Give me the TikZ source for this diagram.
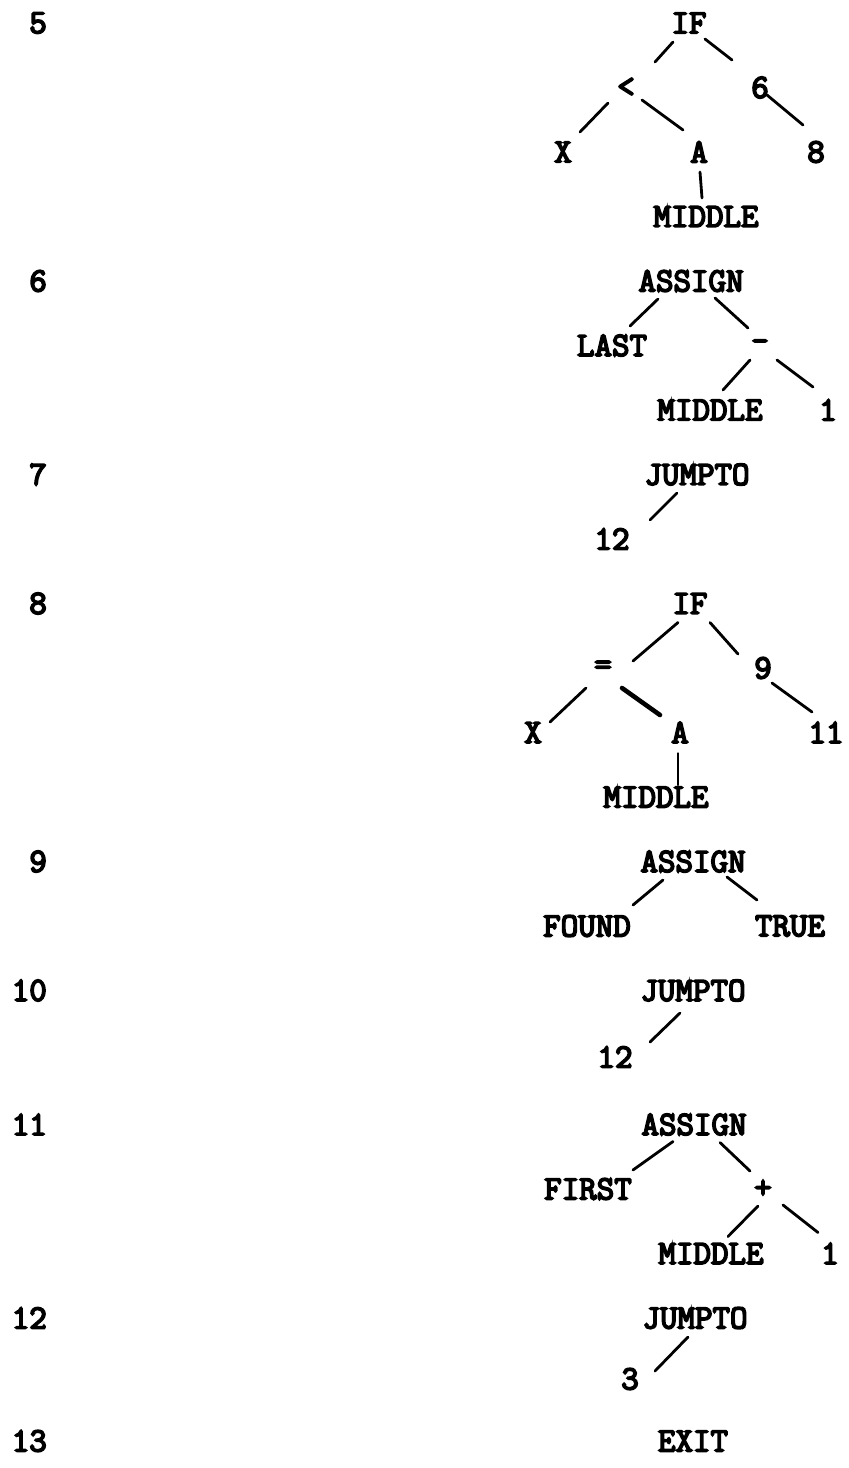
\documentclass[tikz,border=0pt]{standalone}
\usepackage{fontspec}
\newfontfamily\twfont{Latin Modern Mono}[FakeBold=5]
\newcommand\tconn[4]{\draw[edge] ([shift={#2}]#1.center) -- ([shift={#4}]#3.center);}
\begin{document}
\begin{tikzpicture}[x=1pt,y=-1pt,
  lbl/.style={inner sep=0pt,font={\twfont\fontsize{34}{40}\selectfont}},
  num/.style={lbl,anchor=east},
  edge/.style={line width=2.8pt,line cap=round,black},
  heavy/.style={line width=4.6pt,line cap=round,black}]
\useasboundingbox[fill=white] (0,0) rectangle (849,1468);
% statement numbers
\node[num] (n5)  at (47,23)     {5};
\node[num] (n6)  at (47,281)    {6};
\node[num] (n7)  at (47,474.5)  {7};
\node[num] (n8)  at (47,603.5)  {8};
\node[num] (n9)  at (47,861.5)  {9};
\node[num] (n10) at (47,990.5)  {10};
\node[num] (n11) at (47,1124.5) {11};
\node[num] (n12) at (47,1318)   {12};
\node[num] (n13) at (47,1441)   {13};
% tree 5
\node[lbl] (IF1)    at (689,23)    {IF};
\node[lbl] (LT1)    at (626,87.5)  {<};
\node[lbl] (SIX1)   at (760,87.5)  {6};
\node[lbl] (X1)     at (563,152)   {X};
\node[lbl] (A1)     at (699,152)   {A};
\node[lbl] (EIGHT1) at (816,152)   {8};
\node[lbl] (MID1)   at (706,216.5) {MIDDLE};
\tconn{IF1}{(-16,19)}{LT1}{(29,-25.5)}
\tconn{IF1}{(16,16)}{SIX1}{(-28,-27.5)}
\tconn{LT1}{(-18,15.5)}{X1}{(17,-20)}
\tconn{LT1}{(16,12.5)}{A1}{(-16,-22)}
\tconn{SIX1}{(7,7.5)}{EIGHT1}{(-13,-27)}
\tconn{A1}{(1,20)}{MID1}{(-4,-18.5)}
% tree 6
\node[lbl] (ASG2)   at (691,281)   {ASSIGN};
\node[lbl] (LAST2)  at (612,345.5) {LAST};
\node[lbl] (MIN2)   at (760,345.5) {-};
\node[lbl] (MID2)   at (710,410)   {MIDDLE};
\node[lbl] (ONE2)   at (828,410)   {1};
\tconn{ASG2}{(-33,18)}{LAST2}{(18,-19.5)}
\tconn{ASG2}{(24,17)}{MIN2}{(-12,-17.5)}
\tconn{MIN2}{(-10,14.5)}{MID2}{(13,-20)}
\tconn{MIN2}{(17,14.5)}{ONE2}{(-15,-23)}
% tree 7
\node[lbl] (JMP3)   at (697,474.5) {JUMPTO};
\node[lbl] (TW3)    at (612,539)   {12};
\tconn{JMP3}{(-20,18.5)}{TW3}{(38,-19)}
% tree 8
\node[lbl] (IF4)    at (690,603.5) {IF};
\node[lbl] (EQ4)    at (603,668)   {=};
\node[lbl] (NINE4)  at (763,668)   {9};
\node[lbl] (X4)     at (533,732.5) {X};
\node[lbl] (A4)     at (680,732.5) {A};
\node[lbl] (ELV4)   at (826,732.5) {11};
\node[lbl] (MID4)   at (656,797)   {MIDDLE};
\tconn{IF4}{(-12,19)}{EQ4}{(30,-7)}
\tconn{IF4}{(20,19)}{NINE4}{(-25,-14)}
\tconn{EQ4}{(-17,20)}{X4}{(17,-10.5)}
\draw[heavy] ([shift={(19,20)}]EQ4.center) -- ([shift={(-20,-17.5)}]A4.center);
\tconn{NINE4}{(9,15)}{ELV4}{(-14,-20.5)}
\tconn{A4}{(-2,21)}{MID4}{(22,-12)}
% tree 9
\node[lbl] (ASG5)   at (693,861.5) {ASSIGN};
\node[lbl] (FOUND5) at (587,926)   {FOUND};
\node[lbl] (TRUE5)  at (790,926)   {TRUE};
\tconn{ASG5}{(-30,18.5)}{FOUND5}{(46,-21)}
\tconn{ASG5}{(34,15.5)}{TRUE5}{(-33,-26)}
% tree 10
\node[lbl] (JMP6)   at (693,990.5) {JUMPTO};
\node[lbl] (TW6)    at (615,1057)  {12};
\tconn{JMP6}{(-13,22.5)}{TW6}{(35,-15)}
% tree 11
\node[lbl] (ASG7)   at (694,1124.5) {ASSIGN};
\node[lbl] (FIRST7) at (588,1189)   {FIRST};
\node[lbl] (PLUS7)  at (763,1189)   {+};
\node[lbl] (MID7)   at (711,1253.5) {MIDDLE};
\node[lbl] (ONE7)   at (830,1253.5) {1};
\tconn{ASG7}{(-21,17)}{FIRST7}{(45,-19)}
\tconn{ASG7}{(26,18)}{PLUS7}{(-13,-18)}
\tconn{PLUS7}{(-5,17)}{MID7}{(17,-17)}
\tconn{PLUS7}{(20,16)}{ONE7}{(-12,-21)}
% tree 12
\node[lbl] (JMP8)   at (695,1318)   {JUMPTO};
\node[lbl] (THREE8) at (630,1379)   {3};
\tconn{JMP8}{(-7,19)}{THREE8}{(25,-8)}
% 13
\node[lbl] (EXIT9)  at (693,1441)   {EXIT};
\end{tikzpicture}
\end{document}
